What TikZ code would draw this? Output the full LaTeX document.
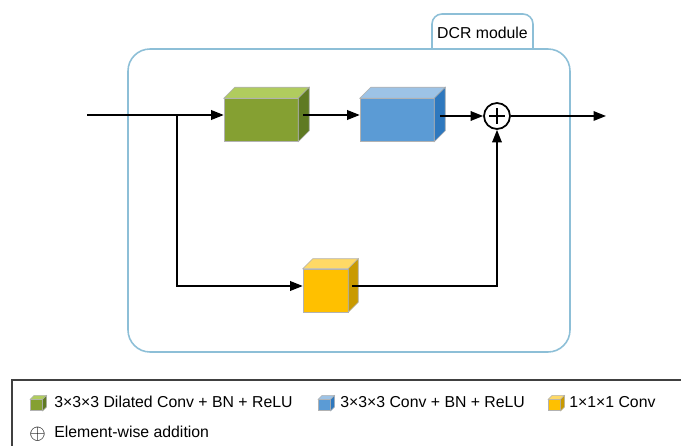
\documentclass[tikz,border=0pt]{standalone}
\usepackage{fontspec}
\setmainfont{Liberation Sans}
\usepackage{tikz}
\usetikzlibrary{calc, arrows.meta}
\definecolor{modFrame}{HTML}{8DBFD7}
\definecolor{dilFront}{HTML}{85A032}
\definecolor{dilTop}{HTML}{B0CC5E}
\definecolor{dilSide}{HTML}{5F7A22}
\definecolor{convFront}{HTML}{5B9BD5}
\definecolor{convTop}{HTML}{9DC3E6}
\definecolor{convSide}{HTML}{2E78BE}
\definecolor{oneFront}{HTML}{FFC000}
\definecolor{oneTop}{HTML}{FFD966}
\definecolor{oneSide}{HTML}{C99A00}
\newcommand{\cubefaces}[4]{%
    \filldraw[fill=#2, draw=black!30, line width=0.3pt] (#1.north west) -- ++(#4,-#4) -- ($(#1.north east)+(#4,-#4)$) -- (#1.north east) -- cycle;
    \filldraw[fill=#3, draw=black!30, line width=0.3pt] (#1.north east) -- ++(#4,-#4) -- ($(#1.south east)+(#4,-#4)$) -- (#1.south east) -- cycle;
}

\begin{document}
\begin{tikzpicture}[x=0.02cm, y=-0.02cm,
    flow/.style={line width=1pt, -{Triangle[length=2.5mm, width=1.9mm]}},
    face/.style={draw=black!30, line width=0.3pt, inner sep=0pt},
    legtext/.style={anchor=west, font=\fontsize{9}{10}\selectfont, inner sep=0pt}]
    \useasboundingbox (0,0) rectangle (681,446);

    % module frame with tab
    \draw[modFrame, line width=0.9pt, rounded corners=0.44cm] (128,49) rectangle (570,352);
    \draw[modFrame, line width=0.9pt, rounded corners=0.2cm] (432,49) -- (432,14) -- (533,14) -- (533,49);
    \node[font=\fontsize{9}{10}\selectfont] (tab) at (482.5,33) {DCR module};

    % blocks
    \node[face, fill=dilFront, minimum width=1.48cm, minimum height=0.86cm] (dil) at (261,120) {};
    \cubefaces{dil}{dilTop}{dilSide}{11}
    \node[face, fill=convFront, minimum width=1.48cm, minimum height=0.86cm] (conv) at (397,120) {};
    \cubefaces{conv}{convTop}{convSide}{11}
    \node[face, fill=oneFront, minimum width=0.9cm, minimum height=0.86cm] (one) at (325.5,290.5) {};
    \cubefaces{one}{oneTop}{oneSide}{10}

    \node[draw, circle, line width=1pt, minimum size=0.52cm, inner sep=0pt] (add) at (497,116) {};
    \draw[line width=0.8pt] ($(add)+(-8,0)$) -- ($(add)+(8,0)$);
    \draw[line width=0.8pt] ($(add)+(0,-8)$) -- ($(add)+(0,8)$);

    \coordinate (in) at (87,115);
    \coordinate (split) at (177,115);
    \coordinate (out) at (606,116);

    % connectors
    \draw[flow] (in) -- (split -| dil.west);
    \draw[flow] ($(dil.east |- split)+(5,0)$) -- (split -| conv.west);
    \draw[flow] ($(conv.east |- add)+(6,0)$) -- (add.west);
    \draw[flow] (add.east) -- (out);
    \draw[flow] (split) |- ($(one.west)+(0,-4.5)$);
    \draw[flow] ($(one.east)+(4,-4.5)$) -| (add.south);

    % legend
    \draw[black!75, line width=0.8pt] (12,446) -- (12,380) -- (681,380);
    \foreach \nm/\fr/\tp/\sd/\xx in {ldil/dilFront/dilTop/dilSide/30, lconv/convFront/convTop/convSide/318, lone/oneFront/oneTop/oneSide/548} {
        \node[face, fill=\fr, minimum width=0.24cm, minimum height=0.22cm, anchor=south west] (\nm) at (\xx,411) {};
        \cubefaces{\nm}{\tp}{\sd}{4}
    }
    \node[legtext] (tdil) at (54,402) {3×3×3 Dilated Conv + BN + ReLU};
    \node[legtext] (tconv) at (340,402) {3×3×3 Conv + BN + ReLU};
    \node[legtext] (tone) at (569,402) {1×1×1 Conv};
    \node[anchor=center, inner sep=0pt, font=\fontsize{13}{14}\selectfont] (ladd) at (37.5,434) {$\oplus$};
    \node[legtext] (tadd) at (54,432) {Element-wise addition};
\end{tikzpicture}
\end{document}
